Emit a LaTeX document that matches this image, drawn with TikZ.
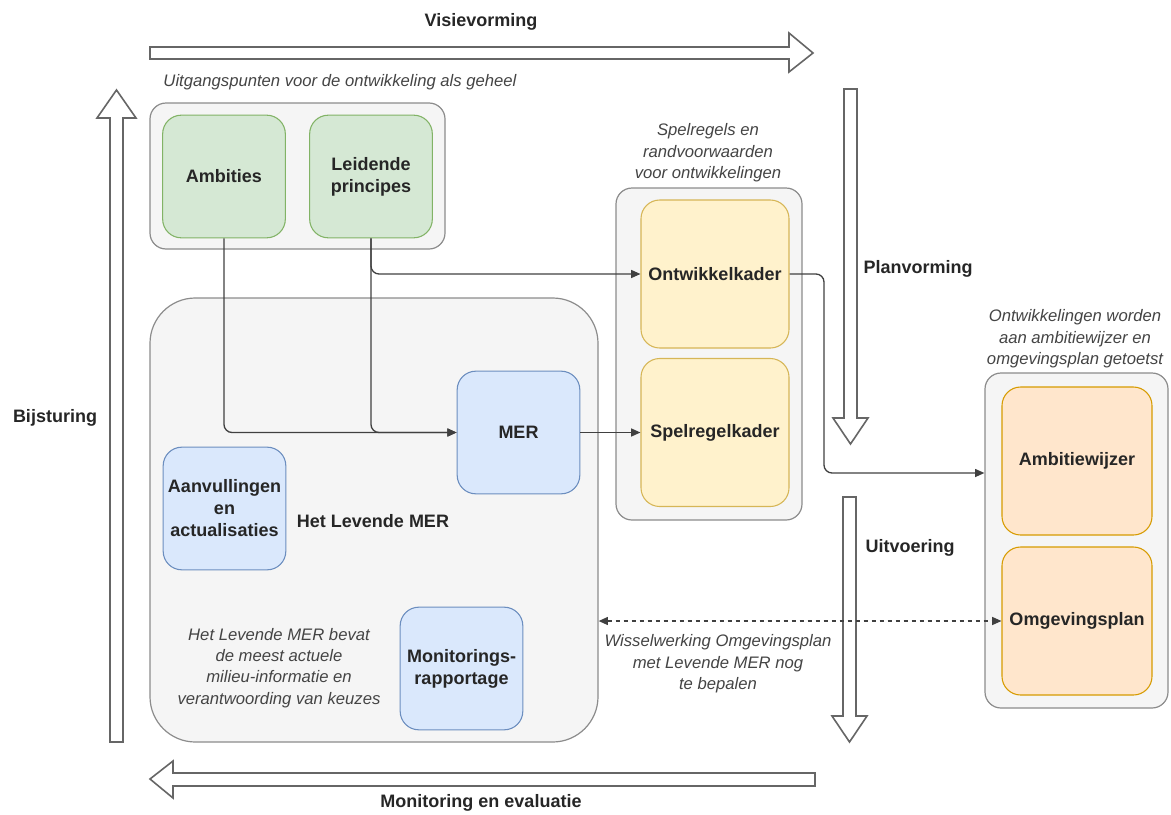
\documentclass[tikz,border=0pt]{standalone}
\usepackage{fontspec}
\setmainfont{Liberation Sans}
\usetikzlibrary{arrows.meta,calc}
\definecolor{grpfill}{HTML}{F5F5F5}
\definecolor{grpline}{HTML}{8C8C8C}
\definecolor{gfill}{HTML}{D5E8D4}
\definecolor{gline}{HTML}{82B366}
\definecolor{yfill}{HTML}{FFF2CC}
\definecolor{yline}{HTML}{D6B656}
\definecolor{bfill}{HTML}{DAE8FC}
\definecolor{bline}{HTML}{6C8EBF}
\definecolor{ofill}{HTML}{FFE6CC}
\definecolor{oline}{HTML}{D79B00}
\definecolor{txtgray}{HTML}{444444}
\definecolor{arrline}{HTML}{666666}
\tikzset{
  grp/.style={draw=grpline,fill=grpfill,line width=0.9pt,rounded corners=12pt,inner sep=0pt},
  inbox/.style={rounded corners=14pt,line width=0.8pt,align=center,inner sep=2pt,
     font=\fontsize{13.5}{16.5}\selectfont\bfseries,text=black!85,
     minimum width=92pt,minimum height=92pt},
  greenbox/.style={inbox,draw=gline,fill=gfill},
  yellowbox/.style={inbox,draw=yline,fill=yfill,minimum width=111pt,minimum height=111pt},
  bluebox/.style={inbox,draw=bline,fill=bfill},
  orangebox/.style={inbox,draw=oline,fill=ofill,minimum width=112.5pt,minimum height=111pt},
  blabel/.style={font=\fontsize{13.5}{16.5}\selectfont\bfseries,text=black!85,align=center},
  ilabel/.style={font=\fontsize{12.5}{16}\selectfont\itshape,text=txtgray,align=center},
  conn/.style={draw=black!75,line width=1pt,rounded corners=6pt,-{Triangle[length=7pt,width=6pt]}},
  blockarrow/.style={draw=arrline,fill=white,line width=1.2pt,line join=miter},
}
\begin{document}
\begin{tikzpicture}[x=0.75pt,y=-0.75pt]
\useasboundingbox (0,0) rectangle (1171,814);

% block arrows
\draw[blockarrow] (150,47) -- (789,47) -- (789,33) -- (813,53) -- (789,72) -- (789,59) -- (150,59) -- cycle;
\draw[blockarrow] (815,773) -- (173,773) -- (173,761) -- (150,779) -- (173,798) -- (173,786) -- (815,786) -- cycle;
\draw[blockarrow] (110,742) -- (110,118) -- (97,118) -- (116.5,90) -- (136,118) -- (123,118) -- (123,742) -- cycle;
\draw[blockarrow] (844,89) -- (857,89) -- (857,418) -- (868,418) -- (850.5,444) -- (833,418) -- (844,418) -- cycle;
\draw[blockarrow] (843,497) -- (856,497) -- (856,716) -- (867,716) -- (849.5,742) -- (832,716) -- (843,716) -- cycle;

% labels of block arrows
\node[blabel] (visie) at (481,22) {Visievorming};
\node[blabel] (monev) at (481,803) {Monitoring en evaluatie};
\node[blabel] (bijst) at (55,418) {Bijsturing};
\node[blabel] (planv) at (918,269) {Planvorming};
\node[blabel] (uitv) at (910,548) {Uitvoering};

% groups
\node[grp,minimum width=221.25pt,minimum height=109.5pt] (topgrp) at (297.5,176) {};
\node[grp,minimum width=336pt,minimum height=333pt,rounded corners=34pt] (levmer) at (374,520) {};
\node[grp,minimum width=139.5pt,minimum height=249pt] (spelgrp) at (709,354) {};
\node[grp,minimum width=137.25pt,minimum height=251.25pt] (rgrp) at (1076.5,540.5) {};

% group captions
\node[ilabel] (capTop) at (340,82) {Uitgangspunten voor de ontwikkeling als geheel};
\node[ilabel] (capSpel) at (708,153) {Spelregels en\\randvoorwaarden\\voor ontwikkelingen};
\node[ilabel] (capR) at (1075,339) {Ontwikkelingen worden\\aan ambitiewijzer en\\omgevingsplan getoetst};
\node[blabel] (levtitle) at (373,521) {Het Levende MER};
\node[ilabel] (levtxt) at (279,668) {Het Levende MER bevat\\de meest actuele\\milieu-informatie en\\verantwoording van keuzes};
\node[ilabel] (wissel) at (718,664) {Wisselwerking Omgevingsplan\\met Levende MER nog\\te bepalen};

% inner boxes
\node[greenbox] (amb) at (224,176.5) {Ambities};
\node[greenbox] (leid) at (371,176.5) {Leidende\\principes};
\node[yellowbox] (ontw) at (715,274) {Ontwikkelkader};
\node[yellowbox] (spel) at (715,432.5) {Spelregelkader};
\node[orangebox] (ambw) at (1077,461) {Ambitiewijzer};
\node[orangebox] (omg) at (1077,621) {Omgevingsplan};
\node[bluebox] (mer) at (518.5,432.5) {MER};
\node[bluebox] (aanv) at (224.5,508.5) {Aanvullingen\\en\\actualisaties};
\node[bluebox] (monr) at (461.5,668.5) {Monitorings-\\rapportage};

% connectors
\coordinate (bend) at (824,473);
\draw[conn] (amb.south) |- (mer.west);
\draw[conn] (leid.south) |- (mer.west);
\draw[conn] (leid.south) |- (ontw.west);
\draw[conn] (mer.east) -- (spel.west);
\draw[conn] (ontw.east) -| (bend) -- (rgrp.west |- bend);
\draw[conn,dashed,rounded corners=0pt,{Triangle[length=7pt,width=6pt]}-{Triangle[length=7pt,width=6pt]}] (levmer.east |- omg.west) -- (omg.west);
\end{tikzpicture}
\end{document}
